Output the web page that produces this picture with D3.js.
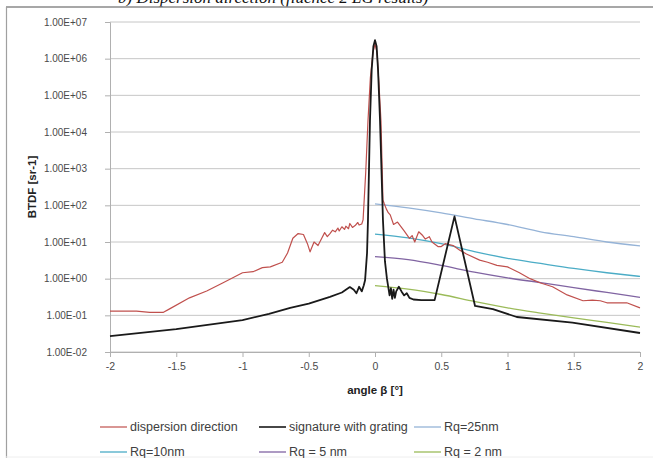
<!DOCTYPE html>
<html>
<head>
<meta charset="utf-8">
<script src="https://cdn.jsdelivr.net/npm/d3@7"></script>
<style>
    body { margin: 0; background: #fff; }
    svg { display: block; }
    text { font-family: "Liberation Sans", Arial, sans-serif; }
</style>
</head>
<body>
<div id="chart"></div>
<script>
// values (angle in degrees, BTDF in sr-1)
const dispersionX = [-2, -1.8, -1.7, -1.6, -1.55, -1.4, -1.27, -1.15, -1.0, -0.92, -0.85, -0.79, -0.7, -0.66, -0.62, -0.58, -0.54, -0.51, -0.49, -0.46, -0.43, -0.4, -0.38, -0.36, -0.34, -0.32, -0.3, -0.28, -0.27, -0.25, -0.23, -0.22, -0.2, -0.19, -0.17, -0.15, -0.13, -0.12, -0.1, -0.09, -0.07, -0.053, -0.035, -0.015, 0, 0.015, 0.03, 0.045, 0.06, 0.07, 0.085, 0.1, 0.115, 0.14, 0.17, 0.19, 0.22, 0.26, 0.28, 0.3, 0.33, 0.36, 0.38, 0.41, 0.43, 0.475, 0.5, 0.53, 0.59, 0.64, 0.69, 0.79, 0.85, 0.92, 1.0, 1.09, 1.17, 1.25, 1.34, 1.45, 1.57, 1.64, 1.7, 1.75, 1.85, 1.9, 2.0]
const dispersionY = [0.13, 0.13, 0.12, 0.12, 0.15, 0.3, 0.46, 0.76, 1.45, 1.55, 2.0, 2.1, 2.8, 5, 12.6, 17, 16, 9, 5.4, 10, 8, 13, 18, 14, 17, 21, 19, 24, 20, 26, 22, 27, 23, 32, 25, 28, 34, 29, 31, 40, 800, 2e4, 3e5, 1.5e6, 2.5e6, 1.5e6, 2e5, 2e4, 140, 110, 80, 63, 55, 30, 35, 28, 20, 12.6, 15, 10, 19, 15, 12, 14, 10, 7.5, 7.5, 9, 8, 6, 4.7, 3.2, 2.8, 2.3, 2.1, 1.45, 1.0, 0.76, 0.6, 0.36, 0.25, 0.26, 0.25, 0.22, 0.22, 0.22, 0.16]

const gratingX = [-2, -1.5, -1.0, -0.8, -0.64, -0.5, -0.34, -0.25, -0.19, -0.16, -0.14, -0.12, -0.1, -0.085, -0.075, -0.06, -0.053, -0.038, -0.025, -0.012, 0, 0.012, 0.023, 0.038, 0.06, 0.075, 0.09, 0.1, 0.11, 0.12, 0.13, 0.14, 0.15, 0.16, 0.18, 0.2, 0.22, 0.24, 0.26, 0.29, 0.35, 0.45, 0.6, 0.755, 0.89, 1.07, 1.49, 2.0]
const gratingY = [0.027, 0.042, 0.074, 0.11, 0.16, 0.21, 0.32, 0.42, 0.59, 0.5, 0.4, 0.6, 0.45, 0.65, 0.9, 5, 40, 2e4, 5e5, 2.2e6, 3.2e6, 2.2e6, 5e5, 2e4, 40, 3, 1.0, 0.6, 0.35, 0.55, 0.28, 0.5, 0.3, 0.45, 0.6, 0.45, 0.35, 0.4, 0.3, 0.27, 0.26, 0.26, 50, 0.18, 0.148, 0.09, 0.063, 0.033]

const modelX = [0, 0.25, 0.5, 0.75, 1.0, 1.25, 1.5, 1.75, 2.0]
const rq25 = [110, 85, 62, 43, 30, 19, 14, 10, 7.8]
const rq10 = [16.5, 13, 9, 5.5, 3.6, 2.6, 1.9, 1.45, 1.15]
const rq5 = [4, 3.3, 2.3, 1.5, 1.05, 0.78, 0.57, 0.42, 0.31]
const rq2 = [0.65, 0.52, 0.37, 0.24, 0.16, 0.115, 0.085, 0.064, 0.048]

const xTicks = [-2, -1.5, -1, -0.5, 0, 0.5, 1, 1.5, 2]
const yTicks = [1e-2, 1e-1, 1e0, 1e1, 1e2, 1e3, 1e4, 1e5, 1e6, 1e7]

const series = [
    { name: 'dispersion direction', xs: dispersionX, ys: dispersionY, colour: '#c0504d', width: 1.2, curve: d3.curveLinear },
    { name: 'signature with grating', xs: gratingX, ys: gratingY, colour: '#1a1a1a', width: 1.8, curve: d3.curveLinear },
    { name: 'Rq=25nm', xs: modelX, ys: rq25, colour: '#95b3d7', width: 1.3, curve: d3.curveMonotoneX },
    { name: 'Rq=10nm', xs: modelX, ys: rq10, colour: '#4bacc6', width: 1.3, curve: d3.curveMonotoneX },
    { name: 'Rq = 5 nm', xs: modelX, ys: rq5, colour: '#8064a2', width: 1.3, curve: d3.curveMonotoneX },
    { name: 'Rq = 2 nm', xs: modelX, ys: rq2, colour: '#9bbb59', width: 1.3, curve: d3.curveMonotoneX }
]

const width = 654
const height = 458
const margin = { top: 22, right: 14, bottom: 106, left: 110 }

const svg = d3.select('#chart')
    .append('svg')
    .attr('width', width)
    .attr('height', height)

// caption of the figure, cut off by the top of the picture
svg.append('text')
    .attr('x', 118)
    .attr('y', 3)
    .style('font-family', '"Liberation Serif", "Times New Roman", serif')
    .style('font-style', 'italic')
    .style('font-size', '17px')
    .attr('fill', '#111')
    .text('b)   Dispersion direction (fluence 2 LG results)')

// chart frame
svg.append('line')
    .attr('x1', 6).attr('x2', 653).attr('y1', 7).attr('y2', 7)
    .attr('stroke', '#8a8a8a').attr('stroke-width', 1.5)
svg.append('line')
    .attr('x1', 6.5).attr('x2', 6.5).attr('y1', 7).attr('y2', height)
    .attr('stroke', '#a0a0a0').attr('stroke-width', 1.2)
svg.append('line')
    .attr('x1', 6).attr('x2', 653).attr('y1', 457).attr('y2', 457)
    .attr('stroke', '#eeeeee')

const x = d3.scaleLinear().domain([-2, 2]).range([margin.left, width - margin.right])
const y = d3.scaleLog().domain([1e-2, 1e7]).range([height - margin.bottom, margin.top])

const chart = svg.append('g')

chart.append('g')
    .attr('class', 'grid')
    .selectAll('line')
    .data(yTicks)
    .join('line')
    .attr('x1', x(-2))
    .attr('x2', x(2))
    .attr('y1', d => y(d))
    .attr('y2', d => y(d))
    .attr('stroke', '#c6c6c6')
    .attr('stroke-width', 1)

const expFormat = d => {
    const e = Math.round(Math.log10(d))
    return `1.00E${e < 0 ? '-' : '+'}${String(Math.abs(e)).padStart(2, '0')}`
}

const yAxis = chart.append('g')
    .attr('transform', `translate(${x(-2)},0)`)
    .call(d3.axisLeft(y).tickValues(yTicks).tickFormat(expFormat).tickSize(5).tickPadding(18))
const xAxis = chart.append('g')
    .attr('transform', `translate(0,${y(1e-2)})`)
    .call(d3.axisBottom(x).tickValues(xTicks).tickFormat(d => d3.format('')(d).replace('−', '-')).tickSize(5).tickPadding(6))

for (let axis of [yAxis, xAxis]) {
    axis.select('.domain').attr('stroke', '#b0b0b0')
    axis.selectAll('.tick line').attr('stroke', '#b0b0b0')
    axis.selectAll('.tick text')
        .attr('fill', '#4a4a4a')
        .style('font-size', '10.5px')
}
yAxis.selectAll('.tick text').style('font-size', '10px')

const line = (s) => d3.line()
    .x(i => x(s.xs[i]))
    .y(i => y(s.ys[i]))
    .curve(s.curve)

// models first, then measured curves on top
const drawOrder = [2, 3, 4, 5, 0, 1]
for (let k of drawOrder) {
    const s = series[k]
    chart.append('path')
        .datum(d3.range(s.xs.length))
        .attr('fill', 'none')
        .attr('stroke', s.colour)
        .attr('stroke-width', s.width)
        .attr('stroke-linejoin', 'round')
        .attr('d', line(s))
}

// axis titles
svg.append('text')
    .attr('transform', `translate(36,${(y(1e-2) + y(1e7)) / 2}) rotate(-90)`)
    .attr('text-anchor', 'middle')
    .style('font-size', '11.5px')
    .style('font-weight', 'bold')
    .attr('fill', '#222')
    .text('BTDF [sr-1]')

svg.append('text')
    .attr('x', x(0))
    .attr('y', 394)
    .attr('text-anchor', 'middle')
    .style('font-size', '11.5px')
    .style('font-weight', 'bold')
    .attr('fill', '#222')
    .text('angle β [°]')

// legend, three per row
const legendCols = [100, 259, 414]
const legendRows = [427, 452]
const legend = svg.append('g')
    .selectAll('g')
    .data(series)
    .join('g')
    .attr('transform', (d, i) => `translate(${legendCols[i % 3]},${legendRows[Math.floor(i / 3)]})`)

legend.append('line')
    .attr('x1', 0).attr('x2', 27)
    .attr('y1', 0).attr('y2', 0)
    .attr('stroke', d => d.colour)
    .attr('stroke-width', d => Math.min(d.width, 1.6))

legend.append('text')
    .attr('x', 30)
    .attr('y', 0)
    .attr('dy', '0.35em')
    .style('font-size', '12.5px')
    .attr('fill', '#404040')
    .text(d => d.name)
</script>
</body>
</html>
